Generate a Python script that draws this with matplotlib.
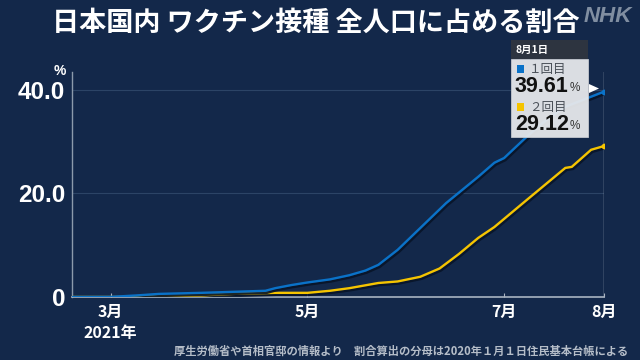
"""NHK-style chart: vaccination share of the total population in Japan."""

import matplotlib
matplotlib.use('Agg')

import matplotlib.pyplot as plt
import matplotlib.patheffects as pe
from matplotlib.patches import Rectangle, Polygon
import numpy as np

# ── Data ─────────────────────────────────────────────────────────────────────
DOSE1_DATES = ['2021-02-17', '2021-03-01', '2021-03-09', '2021-03-16', '2021-03-29',
               '2021-04-08', '2021-04-18', '2021-04-21', '2021-04-26', '2021-05-01',
               '2021-05-08', '2021-05-14', '2021-05-19', '2021-05-23', '2021-05-29',
               '2021-06-05', '2021-06-13', '2021-06-23', '2021-06-28', '2021-07-01',
               '2021-07-08', '2021-07-13', '2021-07-20', '2021-08-01']
DOSE1_PCT = [0.0, 0.02, 0.3, 0.6, 0.8,
             1.0, 1.2, 1.7, 2.3, 2.8,
             3.4, 4.2, 5.1, 6.2, 9.1,
             13.3, 18.1, 23.2, 25.9, 26.8,
             30.9, 33.6, 36.7, 39.61]

DOSE2_DATES = ['2021-02-17', '2021-03-09', '2021-03-16', '2021-03-29', '2021-04-08',
               '2021-04-21', '2021-05-01', '2021-05-08', '2021-05-14', '2021-05-23',
               '2021-05-29', '2021-06-05', '2021-06-11', '2021-06-17', '2021-06-23',
               '2021-06-28', '2021-07-08', '2021-07-20', '2021-07-22', '2021-07-28',
               '2021-08-01']
DOSE2_PCT = [0.0, 0.0, 0.1, 0.3, 0.6,
             0.8, 0.8, 1.2, 1.7, 2.7,
             3.0, 3.9, 5.5, 8.3, 11.4,
             13.5, 18.7, 24.9, 25.1, 28.4,
             29.12]

SERIES_LABELS = ['１回目', '２回目']
SERIES_COLORS = ['#0a72c8', '#f5c400']

Y_TICKS = [0, 20, 40]
Y_TICK_LABELS = ['0', '20.0', '40.0']
X_TICKS = ['2021-03-01', '2021-05-01', '2021-07-01', '2021-08-01']
X_TICK_LABELS = ['3月\n2021年', '5月', '7月', '8月']

TITLE = '日本国内 ワクチン接種 全人口に占める割合'
SOURCE = '厚生労働省や首相官邸の情報より　割合算出の分母は2020年１月１日住民基本台帳による'
TOOLTIP_DATE = '8月1日'

BG = '#13284a'
JP = ['Noto Sans CJK JP', 'DejaVu Sans']
NUM = ['Liberation Sans', 'Noto Sans CJK JP']

plt.rcParams['font.family'] = JP


def fx(px):
    return px / 640


def fy(py):
    return 1 - py / 360


def main() -> None:
    fig = plt.figure(figsize=(6.4, 3.6), dpi=100, facecolor=BG)
    ax = fig.add_axes([fx(72), fy(297), 532 / 640, 225 / 360])
    ax.set_facecolor(BG)

    x1 = np.array(DOSE1_DATES, dtype='datetime64[D]')
    x2 = np.array(DOSE2_DATES, dtype='datetime64[D]')

    shadow = [pe.SimpleLineShadow(offset=(1, -1.5), shadow_color='#081428', alpha=0.9),
              pe.Normal()]
    ax.plot(x2, DOSE2_PCT, color=SERIES_COLORS[1], lw=1.7, zorder=4,
            path_effects=shadow, solid_capstyle='round')
    ax.plot(x1, DOSE1_PCT, color=SERIES_COLORS[0], lw=1.7, zorder=5,
            path_effects=shadow, solid_capstyle='round')
    ax.scatter([x1[-1]], [DOSE1_PCT[-1]], s=10, color=SERIES_COLORS[0], zorder=6)
    ax.scatter([x2[-1]], [DOSE2_PCT[-1]], s=10, color=SERIES_COLORS[1], zorder=6)

    # ── Axes ─────────────────────────────────────────────────────────────────
    ax.set_xlim(np.datetime64('2021-02-17'), np.datetime64('2021-08-01'))
    ax.set_ylim(0, 43.4)
    for s in ['top', 'right']:
        ax.spines[s].set_visible(False)
    ax.spines['left'].set_color('#8c9aab')
    ax.spines['left'].set_linewidth(1.0)
    ax.spines['bottom'].set_color('#a9b4c2')
    ax.spines['bottom'].set_linewidth(1.2)

    ax.axvline(np.datetime64(X_TICKS[-1]), color='#a9b4c2', lw=1.0, zorder=3)
    for yv in Y_TICKS[1:]:
        ax.axhline(yv, color='#2c4466', lw=0.8, zorder=1)

    ax.set_yticks(Y_TICKS)
    ax.set_yticklabels(Y_TICK_LABELS, fontsize=17.5, fontweight='bold',
                       color='white', family=NUM)
    ax.tick_params(axis='y', length=0, pad=5)

    ax.set_xticks(np.array(X_TICKS, dtype='datetime64[D]'))
    ax.set_xticklabels(X_TICK_LABELS, fontsize=11.5, fontweight='bold',
                       color='white', linespacing=1.4)
    ax.tick_params(axis='x', direction='in', length=3, color='#a9b4c2', pad=5)

    fig.text(fx(60), fy(71), '%', color='white', fontsize=10,
             fontweight='bold', ha='center', va='center', family=NUM)

    # ── Title, logo, source ──────────────────────────────────────────────────
    fig.text(fx(316), fy(23), TITLE, color='white', fontsize=19.5,
             fontweight='bold', ha='center', va='center')
    fig.text(fx(632), fy(16), 'NHK', color='#8d9aab', fontsize=16,
             fontweight='bold', style='italic', ha='right', va='center',
             family=NUM, alpha=0.9)
    fig.text(fx(628), fy(351), SOURCE, color='#b5bdc8', fontsize=8.1,
             fontweight='bold', ha='right', va='center')

    # ── Tooltip ──────────────────────────────────────────────────────────────
    L, R, T, H, B = 511, 588, 40, 59, 137
    fig.patches.append(Rectangle((fx(L), fy(B)), fx(R - L), (B - H) / 360,
                                 transform=fig.transFigure, facecolor='#e6e8eb',
                                 edgecolor='#c8ccd2', lw=0.6, alpha=0.95, zorder=10))
    fig.patches.append(Rectangle((fx(L), fy(H)), fx(R - L), (H - T) / 360,
                                 transform=fig.transFigure, facecolor='#2d3440',
                                 edgecolor='none', zorder=10))
    fig.patches.append(Polygon([(fx(589), fy(84)), (fx(599), fy(88.5)),
                                (fx(589), fy(93))], closed=True,
                               transform=fig.transFigure, facecolor='white',
                               edgecolor='none', zorder=10))
    fig.text(fx(516), fy(50), TOOLTIP_DATE, color='white', fontsize=7.5,
             fontweight='bold', ha='left', va='center', zorder=11)

    finals = [DOSE1_PCT[-1], DOSE2_PCT[-1]]
    for i, (lab, col, val) in enumerate(zip(SERIES_LABELS, SERIES_COLORS, finals)):
        y0 = 69 + i * 38
        fig.patches.append(Rectangle((fx(517), fy(y0 + 3.5)), fx(7), 7 / 360,
                                     transform=fig.transFigure, facecolor=col,
                                     edgecolor='none', zorder=11))
        fig.text(fx(529), fy(y0), lab, color='#4a5058', fontsize=9,
                 ha='left', va='center', zorder=11)
        fig.text(fx(515), fy(y0 + 17.5), f'{val:.2f}', color='#111111',
                 fontsize=15.5, fontweight='bold', ha='left', va='center',
                 family=NUM, zorder=11)
        fig.text(fx(570), fy(y0 + 19), '%', color='#333333', fontsize=8.5,
                 ha='left', va='center', family=NUM, zorder=11)

    fig.savefig('out.png', dpi=100, facecolor=BG)
    plt.close(fig)


if __name__ == '__main__':
    main()
